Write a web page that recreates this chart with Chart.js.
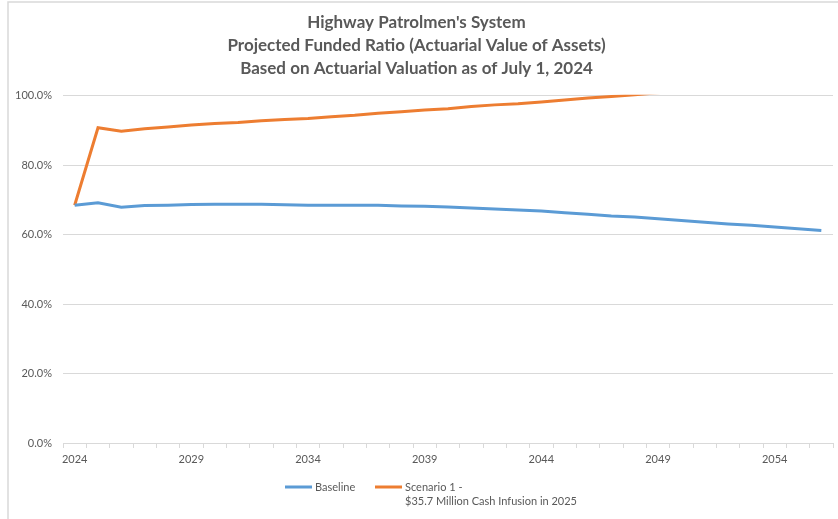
<!DOCTYPE html>
<html>
<head>
<meta charset="utf-8">
<script src="https://cdn.jsdelivr.net/npm/chart.js@4"></script>
<style>
  html, body { margin: 0; padding: 0; background: #fff; }
  #wrap { width: 838px; height: 519px; }
</style>
</head>
<body>
<div id="wrap"><canvas id="c"></canvas></div>
<script>
const years = [];
for (let y = 2024; y <= 2056; y++) years.push(String(y));

const titleLines = [
    "Highway Patrolmen's System",
    'Projected Funded Ratio (Actuarial Value of Assets)',
    'Based on Actuarial Valuation as of July 1, 2024'
];

const baseline = [
    68.5, 69.2, 67.9, 68.4, 68.5, 68.7, 68.8, 68.8, 68.8, 68.6,
    68.5, 68.5, 68.5, 68.5, 68.3, 68.2, 68.0, 67.7, 67.4, 67.1,
    66.8, 66.3, 65.9, 65.4, 65.1, 64.6, 64.1, 63.6, 63.1, 62.7,
    62.2, 61.7, 61.2
];

const scenario1 = [
    68.5, 90.8, 89.8, 90.5, 91.0, 91.6, 92.0, 92.3, 92.8, 93.2,
    93.5, 94.0, 94.4, 95.0, 95.4, 95.9, 96.3, 96.9, 97.4, 97.7,
    98.2, 98.8, 99.4, 99.8, 100.3, 100.9, 101.5, 102.1, 102.7, 103.3,
    103.9, 104.5, 105.1
];

const seriesNames = [
    ['Baseline'],
    ['Scenario 1 -', '$35.7 Million Cash Infusion in 2025']
];

const FONT = 'Lato, "Open Sans", sans-serif';
const GREY = '#595959';

// the chart frame (only its top and left edges show in the picture)
const frame = {
    id: 'frame',
    beforeDraw(chart) {
        const ctx = chart.ctx;
        ctx.save();
        ctx.strokeStyle = '#d9d9d9';
        ctx.lineWidth = 1.5;
        ctx.beginPath();
        ctx.moveTo(8, chart.height);
        ctx.lineTo(8, 2);
        ctx.lineTo(chart.width, 2);
        ctx.stroke();
        ctx.restore();
    }
};

// legend drawn by hand so the second series can wrap onto two lines
const bottomLegend = {
    id: 'bottomLegend',
    afterDraw(chart) {
        const ctx = chart.ctx;
        const starts = [285, 375];
        ctx.save();
        ctx.font = '11px ' + FONT;
        ctx.fillStyle = GREY;
        ctx.textBaseline = 'middle';
        chart.data.datasets.forEach((ds, i) => {
            const x = starts[i], y = 487;
            ctx.strokeStyle = ds.borderColor;
            ctx.lineWidth = 3;
            ctx.beginPath();
            ctx.moveTo(x, y);
            ctx.lineTo(x + 27, y);
            ctx.stroke();
            seriesNames[i].forEach((t, j) => ctx.fillText(t, x + 30, y + j * 14));
        });
        ctx.restore();
    }
};

new Chart(document.getElementById('c'), {
    type: 'line',
    data: {
        labels: years,
        datasets: [
            { label: seriesNames[0].join(' '), data: baseline, borderColor: '#5b9bd5', backgroundColor: '#5b9bd5', borderWidth: 3, pointRadius: 0, tension: 0, clip: 2 },
            { label: seriesNames[1].join(' '), data: scenario1, borderColor: '#ed7d31', backgroundColor: '#ed7d31', borderWidth: 3, pointRadius: 0, tension: 0, clip: 1 }
        ]
    },
    options: {
        responsive: true,
        maintainAspectRatio: false,
        animation: false,
        layout: { padding: { left: 0, right: 5, top: 0, bottom: 50 } },
        plugins: {
            legend: { display: false },
            tooltip: { enabled: false },
            title: {
                display: true,
                text: titleLines,
                color: GREY,
                font: { family: FONT, size: 17, weight: 'bold', lineHeight: 1.35 },
                padding: { top: 11, bottom: 16 }
            }
        },
        scales: {
            x: {
                offset: true,
                afterFit(s) { s.height = 26; },
                border: { color: '#d9d9d9' },
                grid: { offset: true, drawOnChartArea: false, tickLength: 5, color: '#d9d9d9' },
                ticks: {
                    autoSkip: false,
                    maxRotation: 0,
                    padding: 5,
                    color: GREY,
                    font: { family: FONT, size: 11 },
                    callback(v, i) { return i % 5 === 0 ? years[i] : ''; }
                }
            },
            y: {
                min: 0,
                max: 100,
                afterFit(s) { s.width = 63; },
                border: { display: false },
                grid: { color: '#d9d9d9', drawTicks: false },
                ticks: {
                    stepSize: 20,
                    padding: 11,
                    color: GREY,
                    font: { family: FONT, size: 11 },
                    callback: v => v.toFixed(1) + '%'
                }
            }
        }
    },
    plugins: [frame, bottomLegend]
});
</script>
</body>
</html>
